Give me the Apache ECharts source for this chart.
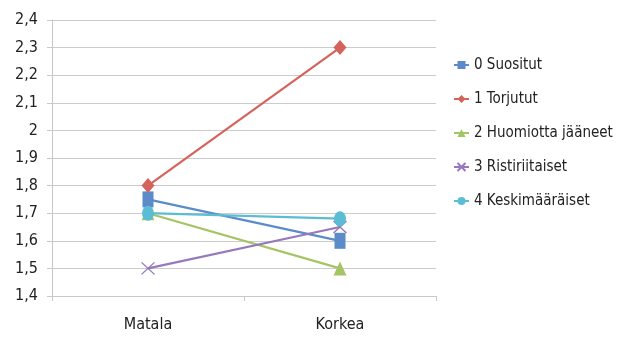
<!DOCTYPE html>
<html>
<head>
<meta charset="utf-8">
<script src="https://cdn.jsdelivr.net/npm/echarts@6/dist/echarts.min.js"></script>
<style>
  html, body { margin: 0; padding: 0; background: #fff; }
  #chart { width: 619px; height: 337px; }
</style>
</head>
<body>
<div id="chart"></div>
<script>
const categories = ['Matala', 'Korkea'];
const seriesNames = ['0 Suositut', '1 Torjutut', '2 Huomiotta jääneet', '3 Ristiriitaiset', '4 Keskimääräiset'];
const suositut = [1.75, 1.6];
const torjutut = [1.8, 2.3];
const huomiotta = [1.7, 1.5];
const ristiriitaiset = [1.5, 1.65];
const keskimaaraiset = [1.7, 1.68];
const yTicks = [1.4, 1.5, 1.6, 1.7, 1.8, 1.9, 2.0, 2.1, 2.2, 2.3, 2.4];

const FONT = '"Liberation Sans Narrow", "DejaVu Sans Condensed", "Open Sans", sans-serif';
const crossPath = 'path://M0,0 L10,10 M10,0 L0,10';
const colors = ['#5B8BC9', '#D4645B', '#A5C463', '#9579BC', '#5BBDD4'];
const symbols = ['rect', 'diamond', 'triangle', crossPath, 'circle'];
const values = [suositut, torjutut, huomiotta, ristiriitaiset, keskimaaraiset];
const sizes = [[11, 16], [13, 15], [13, 14], [13, 12], [12, 15]];

const series = seriesNames.map((name, i) => ({
  name: name,
  type: 'line',
  data: values[i],
  symbol: symbols[i],
  symbolSize: sizes[i],
  showSymbol: true,
  lineStyle: { color: colors[i], width: 2.2 },
  itemStyle: i === 3
    ? { color: 'transparent', borderColor: colors[i], borderWidth: 1.3 }
    : { color: colors[i], borderWidth: 0 },
  emphasis: { disabled: true },
  animation: false
}));

const chart = echarts.init(document.getElementById('chart'), null, { renderer: 'canvas' });
chart.setOption({
  backgroundColor: '#fff',
  animation: false,
  color: colors,
  grid: { left: 52, right: 183, top: 20, bottom: 41, containLabel: false },
  legend: {
    orient: 'vertical',
    left: 448,
    top: 51,
    itemGap: 16,
    itemWidth: 15,
    itemHeight: 10,
    textStyle: { fontFamily: FONT, fontSize: 15, color: '#222', lineHeight: 18 },
    data: seriesNames
  },
  xAxis: {
    type: 'category',
    data: categories,
    boundaryGap: true,
    axisLine: { lineStyle: { color: '#c8c8c8' } },
    axisTick: { show: true, alignWithLabel: false, length: 5, lineStyle: { color: '#c8c8c8' } },
    axisLabel: { fontFamily: FONT, fontSize: 16, color: '#222', margin: 21 }
  },
  yAxis: {
    type: 'value',
    min: 1.4,
    max: 2.4,
    interval: 0.1,
    axisLine: { show: true, lineStyle: { color: '#c8c8c8' } },
    axisTick: { show: true, length: 5, inside: false, lineStyle: { color: '#c8c8c8' } },
    splitLine: { lineStyle: { color: '#cccccc', width: 1 } },
    axisLabel: {
      fontFamily: FONT, fontSize: 16, color: '#222', margin: 14,
      formatter: v => {
        const t = yTicks.find(x => Math.abs(x - v) < 1e-6);
        const s = (t !== undefined ? t : v).toFixed(1).replace(/\.0$/, '');
        return s.replace('.', ',');
      }
    }
  },
  series: series
});
</script>
</body>
</html>
